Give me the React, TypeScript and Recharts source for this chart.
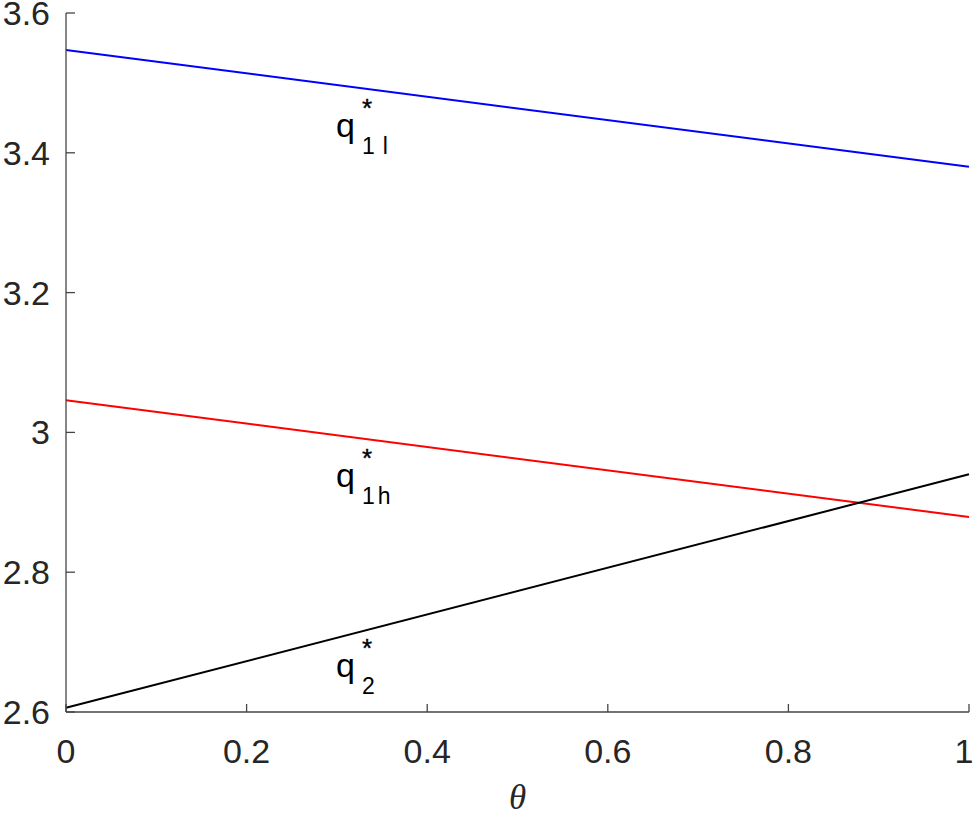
import { LineChart, Line, XAxis, YAxis, ReferenceDot } from "recharts";

const thetaValues = [0, 1];
const q1lValues = [3.547, 3.38];
const q1hValues = [3.046, 2.879];
const q2Values = [2.606, 2.94];

const xTicks = [0, 0.2, 0.4, 0.6, 0.8, 1];
const yTicks = [2.6, 2.8, 3, 3.2, 3.4, 3.6];

// label anchors: theta position, baseline value of the "q", subscript text
const labelTheta = [1 / 3, 1 / 3, 1 / 3];
const labelValues = [3.423, 2.922, 2.65];
const labelSubs = ["1l", "1h", "2"];

const data = thetaValues.map((t, i) => ({
  theta: t,
  q1l: q1lValues[i],
  q1h: q1hValues[i],
  q2: q2Values[i],
}));

const TEXT = "#262626";
const AXIS = "#454545";
const SANS = "'Liberation Sans', Arial, Helvetica, sans-serif";

function QLabel({ viewBox, sub }: { viewBox?: { x: number; y: number }; sub: string }) {
  if (!viewBox) return null;
  const { x, y } = viewBox;
  return (
    <g fill="#000" fontFamily={SANS}>
      <text x={x - 31} y={y} fontSize={34}>
        q
      </text>
      <text x={x} y={y - 20} fontSize={26} textAnchor="middle" stroke="#000" strokeWidth={0.4}>
        *
      </text>
      <text x={x - 5} y={y + 17} fontSize={23} letterSpacing={sub === "1l" ? 8 : 3}>
        {sub}
      </text>
    </g>
  );
}

function XTick({ x, y, payload }: { x?: number; y?: number; payload?: { value: number } }) {
  if (x == null || y == null || !payload) return null;
  // keep the last label inside the picture
  const shift = payload.value === 1 ? -5 : 0;
  return (
    <text x={x + shift} y={y} dy="0.71em" textAnchor="middle" fill={TEXT} fontSize={34} fontFamily={SANS}>
      {String(payload.value)}
    </text>
  );
}

function ThetaLabel({ viewBox }: { viewBox?: { x: number; y: number; width: number } }) {
  if (!viewBox) return null;
  return (
    <text
      x={viewBox.x + viewBox.width / 2}
      y={809}
      textAnchor="middle"
      fontFamily="'Liberation Serif', 'Times New Roman', serif"
      fontStyle="italic"
      fontSize={35}
      fill={TEXT}
    >
      θ
    </text>
  );
}

export default function App() {
  return (
    <div style={{ position: "absolute", left: 0, top: 0, background: "#fff" }}>
      <LineChart width={976} height={817} data={data} margin={{ top: 13, right: 7, left: 0, bottom: 0 }}>
        <XAxis
          dataKey="theta"
          type="number"
          domain={[0, 1]}
          ticks={xTicks}
          height={105}
          tickSize={-8}
          tickMargin={35}
          axisLine={{ stroke: AXIS, strokeWidth: 1.3 }}
          tickLine={{ stroke: AXIS, strokeWidth: 1.3 }}
          tick={<XTick />}
          interval={0}
          label={<ThetaLabel />}
        />
        <YAxis
          type="number"
          domain={[2.6, 3.6]}
          ticks={yTicks}
          width={66}
          tickSize={-9}
          tickMargin={25}
          axisLine={{ stroke: AXIS, strokeWidth: 1.3 }}
          tickLine={{ stroke: AXIS, strokeWidth: 1.3 }}
          tick={{ fill: TEXT, fontSize: 34, fontFamily: SANS }}
          interval={0}
          allowDataOverflow
        />
        <Line dataKey="q1l" stroke="#0000ff" strokeWidth={2} dot={false} isAnimationActive={false} />
        <Line dataKey="q1h" stroke="#ff0000" strokeWidth={2} dot={false} isAnimationActive={false} />
        <Line dataKey="q2" stroke="#000000" strokeWidth={2} dot={false} isAnimationActive={false} />
        {labelSubs.map((s, i) => (
          <ReferenceDot
            key={s}
            x={labelTheta[i]}
            y={labelValues[i]}
            r={0}
            fill="none"
            stroke="none"
            label={<QLabel sub={s} />}
          />
        ))}
      </LineChart>
    </div>
  );
}
